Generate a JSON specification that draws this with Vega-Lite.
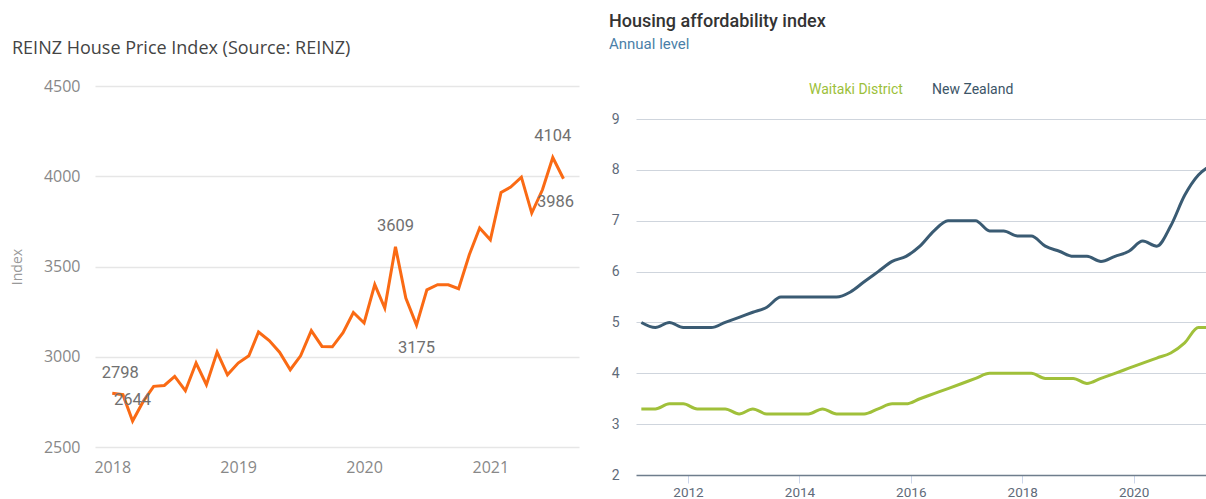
{
  "$schema": "https://vega.github.io/schema/vega-lite/v6.json",
  "padding": {"left": 10, "top": 13, "right": 0, "bottom": 0},
  "bounds": "flush",
  "spacing": 57,
  "config": {"view": {"stroke": null}, "background": "white"},
  "datasets": {
    "reinz": [
      {"date": "2018-01-01", "value": 2798},
      {"date": "2018-02-01", "value": 2790},
      {"date": "2018-03-01", "value": 2644},
      {"date": "2018-04-01", "value": 2753},
      {"date": "2018-05-01", "value": 2836},
      {"date": "2018-06-01", "value": 2841},
      {"date": "2018-07-01", "value": 2891},
      {"date": "2018-08-01", "value": 2812},
      {"date": "2018-09-01", "value": 2965},
      {"date": "2018-10-01", "value": 2845},
      {"date": "2018-11-01", "value": 3026},
      {"date": "2018-12-01", "value": 2900},
      {"date": "2019-01-01", "value": 2965},
      {"date": "2019-02-01", "value": 3005},
      {"date": "2019-03-01", "value": 3137},
      {"date": "2019-04-01", "value": 3090},
      {"date": "2019-05-01", "value": 3025},
      {"date": "2019-06-01", "value": 2928},
      {"date": "2019-07-01", "value": 3005},
      {"date": "2019-08-01", "value": 3145},
      {"date": "2019-09-01", "value": 3057},
      {"date": "2019-10-01", "value": 3055},
      {"date": "2019-11-01", "value": 3133},
      {"date": "2019-12-01", "value": 3245},
      {"date": "2020-01-01", "value": 3187},
      {"date": "2020-02-01", "value": 3400},
      {"date": "2020-03-01", "value": 3270},
      {"date": "2020-04-01", "value": 3609},
      {"date": "2020-05-01", "value": 3325},
      {"date": "2020-06-01", "value": 3175},
      {"date": "2020-07-01", "value": 3371},
      {"date": "2020-08-01", "value": 3399},
      {"date": "2020-09-01", "value": 3399},
      {"date": "2020-10-01", "value": 3377},
      {"date": "2020-11-01", "value": 3565},
      {"date": "2020-12-01", "value": 3713},
      {"date": "2021-01-01", "value": 3648},
      {"date": "2021-02-01", "value": 3910},
      {"date": "2021-03-01", "value": 3940},
      {"date": "2021-04-01", "value": 3995},
      {"date": "2021-05-01", "value": 3796},
      {"date": "2021-06-01", "value": 3925},
      {"date": "2021-07-01", "value": 4104},
      {"date": "2021-08-01", "value": 3986}
    ],
    "hai": [
      {"date": "2011-03-01", "series": "New Zealand", "value": 5.0},
      {"date": "2011-06-01", "series": "New Zealand", "value": 4.9},
      {"date": "2011-09-01", "series": "New Zealand", "value": 5.0},
      {"date": "2011-12-01", "series": "New Zealand", "value": 4.9},
      {"date": "2012-03-01", "series": "New Zealand", "value": 4.9},
      {"date": "2012-06-01", "series": "New Zealand", "value": 4.9},
      {"date": "2012-09-01", "series": "New Zealand", "value": 5.0},
      {"date": "2012-12-01", "series": "New Zealand", "value": 5.1},
      {"date": "2013-03-01", "series": "New Zealand", "value": 5.2},
      {"date": "2013-06-01", "series": "New Zealand", "value": 5.3},
      {"date": "2013-09-01", "series": "New Zealand", "value": 5.5},
      {"date": "2013-12-01", "series": "New Zealand", "value": 5.5},
      {"date": "2014-03-01", "series": "New Zealand", "value": 5.5},
      {"date": "2014-06-01", "series": "New Zealand", "value": 5.5},
      {"date": "2014-09-01", "series": "New Zealand", "value": 5.5},
      {"date": "2014-12-01", "series": "New Zealand", "value": 5.6},
      {"date": "2015-03-01", "series": "New Zealand", "value": 5.8},
      {"date": "2015-06-01", "series": "New Zealand", "value": 6.0},
      {"date": "2015-09-01", "series": "New Zealand", "value": 6.2},
      {"date": "2015-12-01", "series": "New Zealand", "value": 6.3},
      {"date": "2016-03-01", "series": "New Zealand", "value": 6.5},
      {"date": "2016-06-01", "series": "New Zealand", "value": 6.8},
      {"date": "2016-09-01", "series": "New Zealand", "value": 7.0},
      {"date": "2016-12-01", "series": "New Zealand", "value": 7.0},
      {"date": "2017-03-01", "series": "New Zealand", "value": 7.0},
      {"date": "2017-06-01", "series": "New Zealand", "value": 6.8},
      {"date": "2017-09-01", "series": "New Zealand", "value": 6.8},
      {"date": "2017-12-01", "series": "New Zealand", "value": 6.7},
      {"date": "2018-03-01", "series": "New Zealand", "value": 6.7},
      {"date": "2018-06-01", "series": "New Zealand", "value": 6.5},
      {"date": "2018-09-01", "series": "New Zealand", "value": 6.4},
      {"date": "2018-12-01", "series": "New Zealand", "value": 6.3},
      {"date": "2019-03-01", "series": "New Zealand", "value": 6.3},
      {"date": "2019-06-01", "series": "New Zealand", "value": 6.2},
      {"date": "2019-09-01", "series": "New Zealand", "value": 6.3},
      {"date": "2019-12-01", "series": "New Zealand", "value": 6.4},
      {"date": "2020-03-01", "series": "New Zealand", "value": 6.6},
      {"date": "2020-06-01", "series": "New Zealand", "value": 6.5},
      {"date": "2020-09-01", "series": "New Zealand", "value": 6.9},
      {"date": "2020-12-01", "series": "New Zealand", "value": 7.5},
      {"date": "2021-03-01", "series": "New Zealand", "value": 7.9},
      {"date": "2021-06-01", "series": "New Zealand", "value": 8.1},
      {"date": "2011-03-01", "series": "Waitaki District", "value": 3.3},
      {"date": "2011-06-01", "series": "Waitaki District", "value": 3.3},
      {"date": "2011-09-01", "series": "Waitaki District", "value": 3.4},
      {"date": "2011-12-01", "series": "Waitaki District", "value": 3.4},
      {"date": "2012-03-01", "series": "Waitaki District", "value": 3.3},
      {"date": "2012-06-01", "series": "Waitaki District", "value": 3.3},
      {"date": "2012-09-01", "series": "Waitaki District", "value": 3.3},
      {"date": "2012-12-01", "series": "Waitaki District", "value": 3.2},
      {"date": "2013-03-01", "series": "Waitaki District", "value": 3.3},
      {"date": "2013-06-01", "series": "Waitaki District", "value": 3.2},
      {"date": "2013-09-01", "series": "Waitaki District", "value": 3.2},
      {"date": "2013-12-01", "series": "Waitaki District", "value": 3.2},
      {"date": "2014-03-01", "series": "Waitaki District", "value": 3.2},
      {"date": "2014-06-01", "series": "Waitaki District", "value": 3.3},
      {"date": "2014-09-01", "series": "Waitaki District", "value": 3.2},
      {"date": "2014-12-01", "series": "Waitaki District", "value": 3.2},
      {"date": "2015-03-01", "series": "Waitaki District", "value": 3.2},
      {"date": "2015-06-01", "series": "Waitaki District", "value": 3.3},
      {"date": "2015-09-01", "series": "Waitaki District", "value": 3.4},
      {"date": "2015-12-01", "series": "Waitaki District", "value": 3.4},
      {"date": "2016-03-01", "series": "Waitaki District", "value": 3.5},
      {"date": "2016-06-01", "series": "Waitaki District", "value": 3.6},
      {"date": "2016-09-01", "series": "Waitaki District", "value": 3.7},
      {"date": "2016-12-01", "series": "Waitaki District", "value": 3.8},
      {"date": "2017-03-01", "series": "Waitaki District", "value": 3.9},
      {"date": "2017-06-01", "series": "Waitaki District", "value": 4.0},
      {"date": "2017-09-01", "series": "Waitaki District", "value": 4.0},
      {"date": "2017-12-01", "series": "Waitaki District", "value": 4.0},
      {"date": "2018-03-01", "series": "Waitaki District", "value": 4.0},
      {"date": "2018-06-01", "series": "Waitaki District", "value": 3.9},
      {"date": "2018-09-01", "series": "Waitaki District", "value": 3.9},
      {"date": "2018-12-01", "series": "Waitaki District", "value": 3.9},
      {"date": "2019-03-01", "series": "Waitaki District", "value": 3.8},
      {"date": "2019-06-01", "series": "Waitaki District", "value": 3.9},
      {"date": "2019-09-01", "series": "Waitaki District", "value": 4.0},
      {"date": "2019-12-01", "series": "Waitaki District", "value": 4.1},
      {"date": "2020-03-01", "series": "Waitaki District", "value": 4.2},
      {"date": "2020-06-01", "series": "Waitaki District", "value": 4.3},
      {"date": "2020-09-01", "series": "Waitaki District", "value": 4.4},
      {"date": "2020-12-01", "series": "Waitaki District", "value": 4.6},
      {"date": "2021-03-01", "series": "Waitaki District", "value": 4.9},
      {"date": "2021-06-01", "series": "Waitaki District", "value": 4.9}
    ]
  },
  "hconcat": [
    {
      "width": 484,
      "height": 361,
      "title": {"text": "REINZ House Price Index (Source: REINZ)", "anchor": "start", "frame": "group", "dx": -83, "font": "Open Sans", "fontSize": 18, "fontWeight": "normal", "color": "#444444", "offset": 20},
      "data": {"name": "reinz"},
      "encoding": {
        "x": {
          "field": "date", "type": "temporal",
          "scale": {"domain": [{"year": 2017, "month": 11, "date": 12}, {"year": 2021, "month": 9, "date": 15}]},
          "axis": {"title": null, "format": "%Y", "values": [{"year": 2018, "month": 1, "date": 1}, {"year": 2019, "month": 1, "date": 1}, {"year": 2020, "month": 1, "date": 1}, {"year": 2021, "month": 1, "date": 1}], "grid": false, "domain": false, "ticks": false, "tickSize": 0, "labelFont": "Open Sans", "labelFontSize": 16, "labelColor": "#888888", "labelPadding": 12}
        },
        "y": {
          "field": "value", "type": "quantitative",
          "scale": {"domain": [2500, 4500], "nice": false, "zero": false},
          "axis": {"title": "Index", "titleFont": "Open Sans", "titleFontSize": 14, "titleFontWeight": "normal", "titleColor": "#999999", "titlePadding": 19, "values": [2500, 3000, 3500, 4000, 4500], "format": "d", "domain": false, "ticks": false, "tickSize": 0, "gridColor": "#e6e6e6", "gridWidth": 1.5, "labelFont": "Open Sans", "labelFontSize": 16, "labelColor": "#888888", "labelPadding": 15}
        }
      },
      "layer": [
        {"mark": {"type": "line", "color": "#fa6a14", "strokeWidth": 3}},
        {"transform": [{"filter": "datum.value == 2798"}], "mark": {"type": "text", "font": "Roboto", "fontSize": 16.5, "color": "#707070", "dx": 8, "dy": -20}, "encoding": {"text": {"field": "value", "type": "quantitative", "format": "d"}}},
        {"transform": [{"filter": "indexof([2644, 3609, 4104], datum.value) >= 0"}], "mark": {"type": "text", "font": "Roboto", "fontSize": 16.5, "color": "#707070", "dy": -21}, "encoding": {"text": {"field": "value", "type": "quantitative", "format": "d"}}},
        {"transform": [{"filter": "datum.value == 3175"}], "mark": {"type": "text", "font": "Roboto", "fontSize": 16.5, "color": "#707070", "dy": 23}, "encoding": {"text": {"field": "value", "type": "quantitative", "format": "d"}}},
        {"transform": [{"filter": "datum.value == 3986"}], "mark": {"type": "text", "font": "Roboto", "fontSize": 16.5, "color": "#707070", "dx": -8, "dy": 23}, "encoding": {"text": {"field": "value", "type": "quantitative", "format": "d"}}}
      ]
    },
    {
      "width": 572,
      "height": 389,
      "title": {"text": "Housing affordability index", "subtitle": "Annual level", "anchor": "start", "frame": "group", "dx": -27, "font": "Roboto", "fontSize": 18, "fontWeight": 500, "color": "#333333", "subtitleFont": "Roboto", "subtitleFontSize": 15, "subtitleColor": "#4b7fa8", "subtitlePadding": 6, "offset": 34},
      "data": {"name": "hai"},
      "mark": {"type": "line", "interpolate": "monotone", "strokeWidth": 3, "clip": true},
      "encoding": {
        "x": {
          "field": "date", "type": "temporal",
          "scale": {"domain": [{"year": 2011, "month": 1, "date": 25}, {"year": 2021, "month": 5, "date": 3}]},
          "axis": {"title": null, "format": "%Y", "values": [{"year": 2012, "month": 1, "date": 1}, {"year": 2014, "month": 1, "date": 1}, {"year": 2016, "month": 1, "date": 1}, {"year": 2018, "month": 1, "date": 1}, {"year": 2020, "month": 1, "date": 1}], "grid": false, "domainColor": "#6e7d8c", "domainWidth": 1.5, "tickColor": "#ccd6eb", "tickSize": 8, "tickWidth": 1, "labelFont": "Roboto", "labelFontSize": 13.5, "labelColor": "#5f6b7a", "labelPadding": 2}
        },
        "y": {
          "field": "value", "type": "quantitative",
          "scale": {"domain": [2, 9.65], "nice": false, "zero": false},
          "axis": {"title": null, "values": [2, 3, 4, 5, 6, 7, 8, 9], "domain": false, "ticks": false, "tickSize": 0, "gridColor": {"condition": {"test": "datum.value == 2", "value": "transparent"}, "value": "#cfd5dd"}, "gridWidth": 1, "labelFont": "Roboto", "labelFontSize": 14, "labelColor": "#5f6b7a", "labelPadding": 17}
        },
        "color": {
          "field": "series", "type": "nominal",
          "scale": {"domain": ["Waitaki District", "New Zealand"], "range": ["#a0c03a", "#3a5b73"]},
          "legend": {"orient": "none", "legendX": 700, "legendY": -3, "direction": "horizontal", "title": null, "symbolSize": 0, "symbolOpacity": 0, "symbolStrokeWidth": 0, "labelOffset": 0, "columnPadding": 15, "padding": 0, "labelFont": "Roboto", "labelFontSize": 14, "labelColor": {"expr": "datum.label == 'Waitaki District' ? '#9cbf3a' : '#3c5567'"}}
        }
      }
    }
  ]
}
